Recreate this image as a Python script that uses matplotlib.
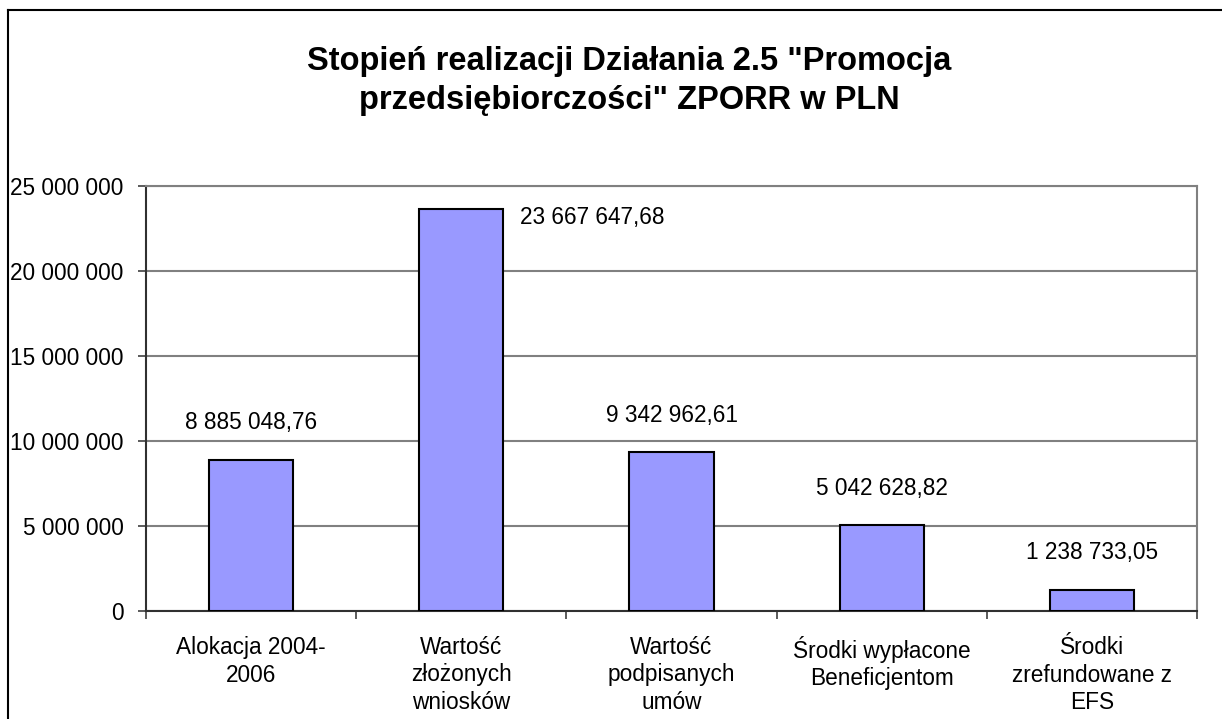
import matplotlib
matplotlib.use("Agg")
import matplotlib.pyplot as plt
from matplotlib.lines import Line2D
from matplotlib.ticker import FuncFormatter, FixedLocator

plt.rcParams["font.family"] = ["Liberation Sans", "DejaVu Sans"]

TITLE = 'Stopień realizacji Działania 2.5 "Promocja\nprzedsiębiorczości" ZPORR w PLN'
categories = [
    "Alokacja 2004-\n2006",
    "Wartość\nzłożonych\nwniosków",
    "Wartość\npodpisanych\numów",
    "Środki wypłacone\nBeneficjentom",
    "Środki\nzrefundowane z\nEFS",
]
values = [8885048.76, 23667647.68, 9342962.61, 5042628.82, 1238733.05]
y_ticks = [0, 5000000, 10000000, 15000000, 20000000, 25000000]

BAR = "#9999FF"
GRID = "#808080"
FS = 16.3


def thousands(v, _=None):
    return f"{int(round(v)):,}".replace(",", " ")


def money(v):
    whole, frac = f"{v:,.2f}".split(".")
    return whole.replace(",", " ") + "," + frac


fig = plt.figure(figsize=(12.22, 7.19), dpi=100)
ax = fig.add_axes([146 / 1222, 108 / 719, (1197 - 146) / 1222, (611 - 186) / 719])

xs = list(range(len(values)))
ax.bar(xs, values, width=0.4, color=BAR, edgecolor="black", linewidth=1.5, zorder=3)

ax.set_xlim(-0.5, len(values) - 0.5)
ax.set_ylim(0, 25000000)
ax.yaxis.set_major_locator(FixedLocator(y_ticks))
ax.yaxis.set_major_formatter(FuncFormatter(thousands))
ax.grid(axis="y", color=GRID, linewidth=1.5, zorder=0)

ax.set_xticks(xs)
ax.set_xticklabels(categories, fontsize=FS, linespacing=1.25)
ax.set_xticks([x - 0.5 for x in xs] + [len(values) - 0.5], minor=True)
ax.tick_params(axis="x", which="major", length=0, pad=18)
ax.tick_params(axis="x", which="minor", length=6, width=1.2, color="#404040")
ax.tick_params(axis="y", length=6, width=1.2, color="#404040", labelsize=FS, pad=10)

for side in ("top", "right"):
    ax.spines[side].set_color(GRID)
    ax.spines[side].set_linewidth(1.5)
for side in ("left", "bottom"):
    ax.spines[side].set_color("#303030")
    ax.spines[side].set_linewidth(1.5)

for x, v in zip(xs, values):
    if v > 20000000:
        ax.annotate(money(v), xy=(x + 0.2, v), xytext=(17, -9), textcoords="offset pixels",
                    ha="left", va="center", fontsize=FS)
    else:
        ax.annotate(money(v), xy=(x, v), xytext=(0, 37), textcoords="offset pixels",
                    ha="center", va="center", fontsize=FS)

fig.text(629 / 1222, 1 - 81 / 719, TITLE, ha="center", va="center", fontsize=23.5,
         fontweight="bold", linespacing=1.33)

# chart area frame (left and top edges visible)
fig.add_artist(Line2D([8 / 1222, 8 / 1222], [0, 1 - 10 / 719], color="black", linewidth=1.5))
fig.add_artist(Line2D([8 / 1222, 1], [1 - 10 / 719, 1 - 10 / 719], color="black", linewidth=1.5))

fig.savefig("out.png", dpi=100)
